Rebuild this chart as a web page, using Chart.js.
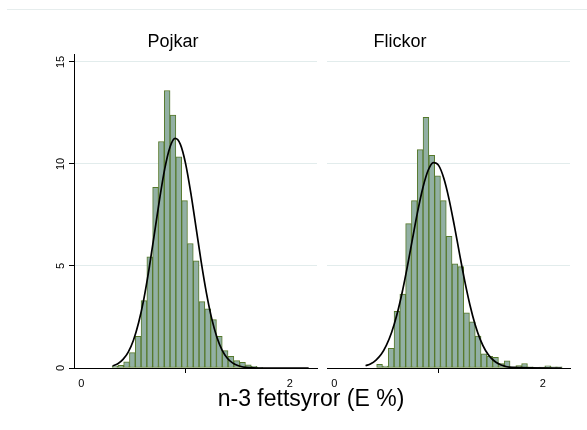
<!DOCTYPE html>
<html><head><meta charset="utf-8">
<script src="https://cdn.jsdelivr.net/npm/chart.js@4"></script>
<style>
html,body{margin:0;padding:0;background:#fff;width:587px;height:430px;overflow:hidden;font-family:"Liberation Sans",Arial,sans-serif;}
.cv{position:absolute;top:0;}
.t{position:absolute;color:#000;white-space:nowrap;transform:translateX(-50%);line-height:1;}
#topline{position:absolute;left:7px;right:0;top:9px;height:0;border-top:1px solid #e6eded;}
</style></head><body>
<div id="topline"></div>
<canvas id="c1" class="cv" style="left:0px" width="322" height="430"></canvas>
<canvas id="c2" class="cv" style="left:322px" width="265" height="430"></canvas>
<div id="t1" class="t" style="left:173px;top:32px;font-size:18px"></div>
<div id="t2" class="t" style="left:400px;top:32px;font-size:18px"></div>
<div id="xt" class="t" style="left:311px;top:387px;font-size:23px"></div>
<script>
const panels = ['Pojkar', 'Flickor'];
const xTitle = 'n-3 fettsyror (E %)';
const xTicks = [0, 2];
const yTicks = [0, 5, 10, 15];

// histogram bin centres (E %)
const binCenters = [0.3228,0.3784,0.4340,0.4896,0.5452,0.6008,0.6564,0.7120,0.7676,0.8232,
  0.8788,0.9344,0.9900,1.0456,1.1012,1.1568,1.2124,1.2680,1.3236,1.3792,
  1.4348,1.4904,1.5460,1.6016,1.6572,1.7128,1.7684,1.8240,1.8796,1.9352,
  1.9908,2.0464,2.1020,2.1576];
// percent per bin
const pojkar = [0.08,0.13,0.30,0.75,1.55,3.30,5.45,8.85,11.10,13.60,
  12.40,10.35,8.20,6.10,5.25,3.25,2.90,2.37,1.55,0.85,
  0.57,0.36,0.28,0.16,0.08,0.03,0,0,0,0,
  0,0,0,0];
const flickor = [0,0,0.18,0.10,0.97,2.78,3.62,7.08,8.20,10.70,
  12.29,10.42,9.42,8.20,6.45,5.10,4.97,2.70,2.26,1.57,
  0.70,0.57,0.52,0.22,0.35,0.06,0.12,0.22,0.06,0.03,
  0.04,0.11,0.06,0.06];

// normal curve
const curveX = [0.30,0.35,0.40,0.45,0.50,0.55,0.60,0.65,0.70,0.75,0.80,0.85,0.90,0.95,1.00,
  1.05,1.10,1.15,1.20,1.25,1.30,1.35,1.40,1.45,1.50,1.55,1.60,1.70,2.18];
const pojkarCurve = [0.10,0.21,0.42,0.78,1.36,2.23,3.39,4.87,6.55,8.25,9.76,10.82,11.25,10.96,10.02,
  8.58,6.89,5.19,3.67,2.43,1.51,0.88,0.48,0.25,0.12,0.05,0.02,0,0];
const flickorCurve = [0.11,0.21,0.39,0.67,1.12,1.75,2.61,3.69,4.96,6.34,7.69,8.85,9.69,10.07,9.93,
  9.30,8.28,7.00,5.62,4.28,3.10,2.13,1.39,0.86,0.51,0.28,0.15,0.03,0];

document.getElementById('t1').textContent = panels[0];
document.getElementById('t2').textContent = panels[1];
document.getElementById('xt').textContent = xTitle;

const FAM = '"Liberation Sans", Arial, sans-serif';

function makeChart(id, values, curve, showY, pad) {
  return new Chart(document.getElementById(id), {
    type: 'bar',
    data: { datasets: [
      { type: 'line', data: curveX.map((x, i) => ({ x, y: curve[i] })), borderColor: '#000',
        borderWidth: 1.7, pointRadius: 0, cubicInterpolationMode: 'monotone', fill: false, order: 0 },
      { type: 'bar', data: binCenters.map((x, i) => ({ x, y: values[i] })), backgroundColor: '#92b0a4',
        borderColor: '#55782a', borderWidth: 1, borderSkipped: false, barPercentage: 1,
        categoryPercentage: 1, order: 1 }
    ]},
    options: {
      responsive: false, animation: false, devicePixelRatio: 1,
      layout: { padding: pad },
      plugins: { legend: { display: false }, tooltip: { enabled: false } },
      scales: {
        x: { type: 'linear', min: -0.07, max: 2.26, offset: false,
          afterBuildTicks: s => { s.ticks = xTicks.map(v => ({ value: v })); },
          afterFit: s => { s.height = 30; },
          ticks: { color: '#000', font: { size: 11, family: FAM }, padding: 4, maxRotation: 0, autoSkip: false },
          grid: { drawOnChartArea: false, tickColor: '#000', tickLength: 5, tickWidth: 1 },
          border: { color: '#000', width: 1 } },
        y: { type: 'linear', min: 0, max: 15.39,
          afterBuildTicks: s => { s.ticks = yTicks.map(v => ({ value: v })); },
          afterFit: s => { s.width = showY ? 74 : 5; },
          ticks: { display: showY, color: '#000', font: { size: 11, family: FAM }, minRotation: 90, maxRotation: 90,
            crossAlign: 'center', padding: 2 },
          grid: { color: '#e2ecec', lineWidth: 1, tickColor: showY ? '#000' : 'rgba(0,0,0,0)', tickLength: showY ? 5 : 0 },
          border: { display: showY, color: '#000', width: 1 } }
      }
    }
  });
}
makeChart('c1', pojkar, pojkarCurve, true, { top: 54, right: 5, bottom: 32, left: 0 });
makeChart('c2', flickor, flickorCurve, false, { top: 54, right: 17, bottom: 32, left: 0 });
</script>
</body></html>
